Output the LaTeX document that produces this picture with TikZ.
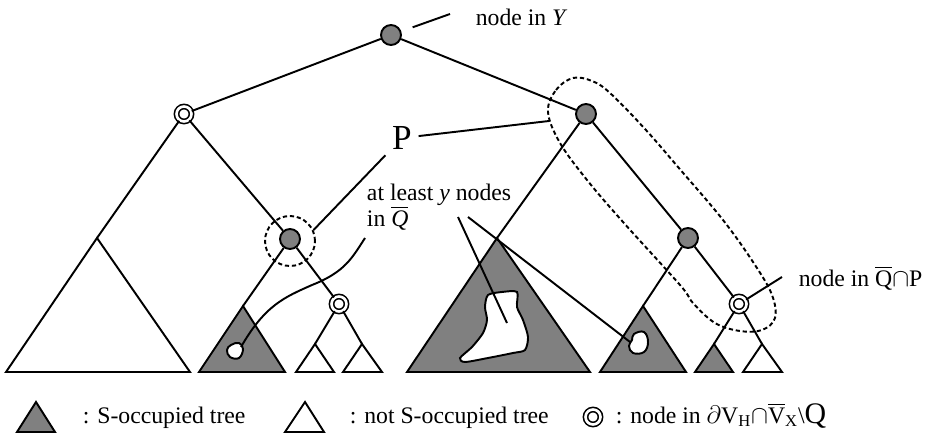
\documentclass[tikz,border=0pt]{standalone}
\usepackage{fontspec}
\setmainfont{Liberation Serif}
\usepackage{amsmath, amssymb}
\usetikzlibrary{shapes, arrows.meta, positioning, fit, calc}

\begin{document}
\begin{tikzpicture}[x=0.02cm,y=-0.02cm,line width=1.1pt,
    every node/.style={font=\fontsize{13.5}{14.8}\selectfont},
    ynode/.style={circle,draw,fill=gray,inner sep=0pt,minimum size=0.4cm},
    bnode/.style={circle,draw,double,line width=0.9pt,double distance=1.5pt,fill=white,inner sep=0pt,minimum size=0.3cm},
    occ/.style={draw,fill=gray},
    freetree/.style={draw,fill=white},
    ring/.style={draw,dash pattern=on 2.4pt off 1.6pt}]
  \useasboundingbox (0,0) rectangle (926,435);
  \node[ynode] (root) at (391,35) {};
  \node[bnode] (lc) at (184,114) {};
  \node[ynode] (pr) at (586,114) {};
  \node[ynode] (m1) at (290,239) {};
  \node[bnode] (b1) at (339,304) {};
  \node[ynode] (m2) at (688,238) {};
  \node[bnode] (b2) at (739,304) {};
  \coordinate (t1) at (97,238);
  \coordinate (t2) at (243,306);
  \coordinate (t3) at (315,344);
  \coordinate (t4) at (362,344);
  \coordinate (t5) at (497,238);
  \coordinate (t6) at (643,306);
  \coordinate (t7) at (714,344);
  \coordinate (t8) at (762,344);
  \draw (root) -- (lc);
  \draw (root) -- (pr);
  \draw (lc) -- (t1);
  \draw (lc) -- (m1);
  \draw (m1) -- (t2);
  \draw (m1) -- (b1);
  \draw (b1) -- (t3);
  \draw (b1) -- (t4);
  \draw (pr) -- (t5);
  \draw (pr) -- (m2);
  \draw (m2) -- (t6);
  \draw (m2) -- (b2);
  \draw (b2) -- (t7);
  \draw (b2) -- (t8);
  \draw[freetree] (t1) -- (6,372) -- (190,372) -- cycle;
  \draw[occ] (t2) -- (199,372) -- (285,372) -- cycle;
  \draw[freetree] (t3) -- (296,372) -- (334,372) -- cycle;
  \draw[freetree] (t4) -- (343,372) -- (382,372) -- cycle;
  \draw[occ] (t5) -- (407,372) -- (590,372) -- cycle;
  \draw[occ] (t6) -- (600,372) -- (686,372) -- cycle;
  \draw[occ] (t7) -- (695,372) -- (733,372) -- cycle;
  \draw[freetree] (t8) -- (743,372) -- (782,372) -- cycle;
  \draw[fill=white] plot[smooth cycle,tension=0.7] coordinates {(231,345) (239,343) (243,349) (239,358) (230,357) (227,350)};
  \draw[fill=white] plot[smooth cycle,tension=0.45] coordinates {(488,295) (502,292) (517,292) (517,307) (523,320) (528,337) (525,350) (513,353) (488,358) (465,362) (460,358) (472,347) (483,333) (487,320) (485,307)};
  \draw[fill=white] plot[smooth cycle,tension=0.7] coordinates {(634,334) (644,332) (648,342) (644,352) (633,353) (629,346) (632,340)};
  \node[ring,circle,minimum size=1cm,inner sep=0pt] (dc) at (290,241) {};
  \draw[ring] plot[smooth cycle,tension=0.6] coordinates {(548,112) (556,90) (573,78) (592,81) (610,93) (645,129) (678,167) (723,220) (755,265) (772,295) (775,318) (762,330) (740,331) (715,323) (693,303) (680,285) (623,222) (587,180) (560,143)};
  \coordinate (pe) at (549,121);
  \coordinate (yt) at (450,14);
  \draw[shorten <=0.24cm] (root) -- (yt);
  \node[anchor=base west] (ly) at (469,26) {node in \textit{Y}};
  \node[font=\fontsize{20}{22}\selectfont] (lp) at (402,138) {P};
  \draw (lp) -- (dc.25);
  \draw (lp) -- (pe);
  \node[anchor=north west,align=left,inner sep=0pt] (lq) at (366,183) {at least \textit{y} nodes\\in $\overline{\textit{Q}}$};
  \coordinate (sb1) at (241,347);
  \coordinate (cq) at (365,238);
  \draw (sb1) .. controls (265,305) and (285,297) .. (312,285) .. controls (345,272) and (352,258) .. (cq);
  \coordinate (lq1) at (458,217);
  \coordinate (lq2) at (468,217);
  \coordinate (bb1) at (507,323);
  \coordinate (bb2) at (630,342);
  \draw (lq1) -- (bb1);
  \draw (lq2) -- (bb2);
  \coordinate (qp) at (782,277);
  \draw (b2) -- (qp);
  \node[anchor=base west] (lqp) at (792,287) {node in $\overline{\mathrm{Q}}\mathord{\cap}$P};
  \draw[occ] (17,432) -- (55,432) -- (36,402) -- cycle;
  \node[anchor=base west] (lg1) at (76,423) {: S-occupied tree};
  \draw[freetree] (285,432) -- (324,432) -- (305,402) -- cycle;
  \node[anchor=base west] (lg2) at (343,423) {: not S-occupied tree};
  \node[bnode] (lgb) at (593,417) {};
  \node[anchor=base west] (lg3) at (609,423) {: node in $\partial$V$_{\mathrm{H}}\mathord{\cap}\overline{\mathrm{V}}_{\mathrm{X}}$\textbackslash{\fontsize{17}{18}\selectfont Q}};
\end{tikzpicture}
\end{document}
